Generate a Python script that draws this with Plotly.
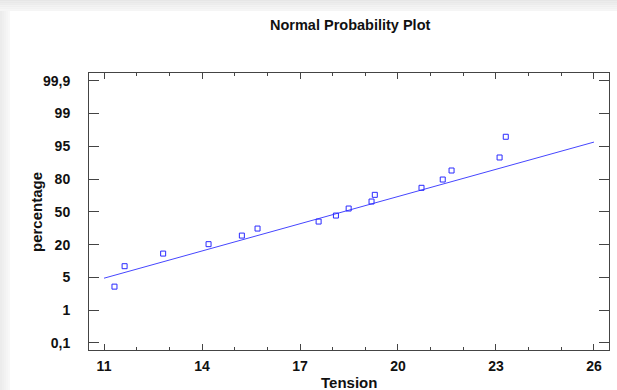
import plotly.graph_objects as go

# Data
tension = [11.32, 11.63, 12.81, 14.20, 15.22, 15.70, 17.57, 18.10, 18.49,
           19.19, 19.29, 20.72, 21.37, 21.64, 23.11, 23.30]
# positions on the (equally spaced) percentage scale: 0 -> 0.1%, ..., 8 -> 99.9%
score = [1.719, 2.342, 2.727, 3.014, 3.276, 3.490, 3.704, 3.887, 4.101,
         4.315, 4.519, 4.733, 4.986, 5.261, 5.658, 6.290]
fit_x = [11, 26]
fit_y = [1.976, 6.128]
y_ticktext = ["0,1", "1", "5", "20", "50", "80", "95", "99", "99,9"]
x_tickvals = [11, 14, 17, 20, 23, 26]

W, H = 617, 390
L, R, T, B = 89, 8, 73, 40
pw, ph = W - L - R, H - T - B

def px2paper_x(px):
    return (px - L) / pw

def px2paper_y(py):
    return (H - B - py) / ph

fig = go.Figure()
fig.add_trace(go.Scatter(x=fit_x, y=fit_y, mode="lines",
                         line=dict(color="#4646ff", width=1), hoverinfo="skip"))
fig.add_trace(go.Scatter(x=tension, y=score, mode="markers",
                         marker=dict(symbol="square-open", size=5,
                                     color="#2a2aff", line=dict(width=1))))

shapes = []
# light gray gradient bands (top and left)
top_cols = ["#e6e6e6", "#e9e9e9", "#ececec", "#efefef", "#f2f2f2", "#f5f5f5"]
n = len(top_cols)
for i, c in enumerate(top_cols):
    y0 = i * 11 / n
    y1 = (i + 1) * 11 / n
    shapes.append(dict(type="rect", xref="paper", yref="paper", layer="below",
                       x0=px2paper_x(0), x1=px2paper_x(W),
                       y0=px2paper_y(y1), y1=px2paper_y(y0),
                       fillcolor=c, line=dict(width=0)))
left_cols = ["#ececec", "#efefef", "#f2f2f2", "#f5f5f5", "#f8f8f8"]
n = len(left_cols)
for i, c in enumerate(left_cols):
    x0 = i * 10 / n
    x1 = (i + 1) * 10 / n
    shapes.append(dict(type="rect", xref="paper", yref="paper", layer="below",
                       x0=px2paper_x(x0), x1=px2paper_x(x1),
                       y0=px2paper_y(H), y1=px2paper_y(11),
                       fillcolor=c, line=dict(width=0)))

axis_col = "#444444"
font_family = "Liberation Sans, Arial, sans-serif"

fig.update_layout(
    width=W, height=H,
    margin=dict(l=L, r=R, t=T, b=B),
    paper_bgcolor="white", plot_bgcolor="white",
    showlegend=False,
    shapes=shapes,
    font=dict(family=font_family, color="#111111"),
    annotations=[
        dict(text="<b>Normal Probability Plot</b>", xref="paper", yref="paper",
             x=px2paper_x(350), y=px2paper_y(25), showarrow=False,
             xanchor="center", yanchor="middle", font=dict(size=14.5)),
        dict(text="<b>Tension</b>", xref="paper", yref="paper",
             x=px2paper_x(349), y=px2paper_y(382), showarrow=False,
             xanchor="center", yanchor="middle", font=dict(size=15)),
        dict(text="<b>percentage</b>", xref="paper", yref="paper",
             x=px2paper_x(36), y=px2paper_y(212), showarrow=False, textangle=-90,
             xanchor="center", yanchor="middle", font=dict(size=15)),
    ],
    xaxis=dict(range=[10.54, 26.46], tickvals=x_tickvals,
               ticks="inside", ticklen=6, tickcolor=axis_col, tickwidth=1,
               minor=dict(dtick=1, tick0=11, ticks="inside", ticklen=3,
                          tickcolor=axis_col),
               showline=True, linecolor=axis_col, linewidth=1, mirror="ticks",
               showgrid=False, zeroline=False,
               tickfont=dict(size=14, family=font_family, weight="bold"),
               ticklabelstandoff=3),
    yaxis=dict(range=[-0.214, 8.235], tickvals=list(range(9)),
               ticktext=y_ticktext,
               ticks="inside", ticklen=10, tickcolor=axis_col, tickwidth=1,
               showline=True, linecolor=axis_col, linewidth=1, mirror="ticks",
               showgrid=False, zeroline=False,
               tickfont=dict(size=14, family=font_family, weight="bold"),
               ticklabelstandoff=15),
)

fig.write_html("out.html",
               config={"displayModeBar": False},
               post_script="document.body.style.margin='0';"
                           "document.body.style.overflow='hidden';")
